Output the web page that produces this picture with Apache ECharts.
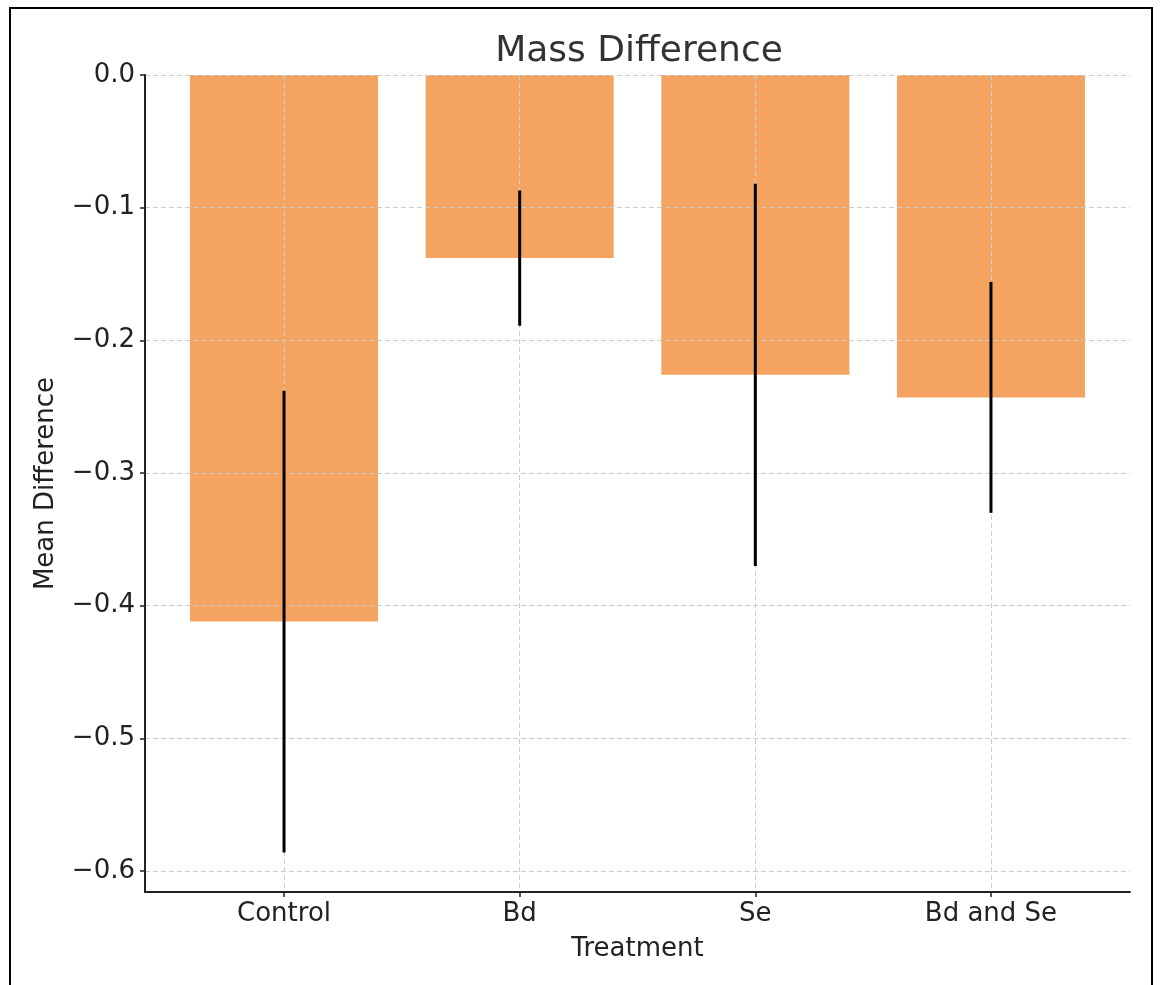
<!DOCTYPE html>
<html>
<head>
<meta charset="utf-8">
<script src="https://cdn.jsdelivr.net/npm/echarts@6/dist/echarts.min.js"></script>
<style>
  html, body { margin: 0; padding: 0; background: #fff; }
  #main { width: 1160px; height: 985px; }
</style>
</head>
<body>
<div id="main"></div>
<script>
// treatments and their mean mass difference
const categories = ['Control', 'Bd', 'Se', 'Bd and Se']
const meanDiff = [-0.412, -0.138, -0.226, -0.243]
// half length of each error bar
const errHalf = [0.174, 0.051, 0.144, 0.087]
const yTicks = [0, -0.1, -0.2, -0.3, -0.4, -0.5, -0.6]

const font = 'DejaVu Sans'
const catIdx = categories.map((c, i) => i)

const barData = meanDiff.map((v, i) => [i, v])
const errData = meanDiff.map((v, i) => [i, v, errHalf[i]])

const fmtTick = v => Number(v).toFixed(1).replace('-', '\u2212')

const option = {
    animation: false,
    backgroundColor: '#fff',
    textStyle: { fontFamily: font },
    title: {
        text: 'Mass Difference',
        left: 634,
        textAlign: 'center',
        top: 29,
        textStyle: { fontFamily: font, fontSize: 36, fontWeight: 'normal', color: '#333' }
    },
    grid: { left: 145, right: 30, top: 75, bottom: 93 },
    xAxis: {
        type: 'value',
        min: -0.59,
        max: 3.59,
        z: 3,
        name: 'Treatment',
        nameLocation: 'middle',
        nameGap: 44,
        nameTextStyle: { fontFamily: font, fontSize: 26, color: '#222' },
        axisLine: { show: true, onZero: false, lineStyle: { color: '#222', width: 2 } },
        axisTick: { show: true, length: 5, customValues: catIdx, lineStyle: { color: '#222', width: 1.5 } },
        axisLabel: {
            customValues: catIdx,
            margin: 9,
            fontFamily: font, fontSize: 26, color: '#222',
            formatter: v => categories[Math.round(v)]
        },
        splitLine: { show: true, lineStyle: { color: '#cccccc', width: 1, type: [5, 3] } }
    },
    yAxis: {
        type: 'value',
        min: -0.6158,
        max: 0,
        z: 3,
        name: 'Mean Difference',
        nameLocation: 'middle',
        nameGap: 86,
        nameTextStyle: { fontFamily: font, fontSize: 26, color: '#222' },
        axisLine: { show: true, onZero: false, lineStyle: { color: '#222', width: 2 } },
        axisTick: { show: true, length: 5, customValues: yTicks, lineStyle: { color: '#222', width: 1.5 } },
        axisLabel: {
            customValues: yTicks,
            margin: 10,
            fontFamily: font, fontSize: 26, color: '#222',
            formatter: fmtTick
        },
        splitLine: { show: true, lineStyle: { color: '#cccccc', width: 1, type: [5, 3] } }
    },
    series: [
        {
            name: 'mean',
            type: 'bar',
            data: barData,
            barWidth: 188,
            z: 2,
            itemStyle: { color: '#F4A460' }
        },
        {
            name: 'error',
            type: 'custom',
            z: 4,
            data: errData,
            renderItem: function (params, api) {
                const x = api.value(0)
                const m = api.value(1)
                const e = api.value(2)
                const top = api.coord([x, m + e])
                const bot = api.coord([x, m - e])
                return {
                    type: 'line',
                    shape: { x1: top[0], y1: top[1], x2: bot[0], y2: bot[1] },
                    style: { stroke: '#000', lineWidth: 3 }
                }
            }
        }
    ],
    graphic: [
        {
            type: 'rect',
            shape: { x: 10, y: 8, width: 1142, height: 1000 },
            style: { fill: null, stroke: '#000', lineWidth: 2 },
            z: 10
        }
    ]
}

const myChart = echarts.init(document.getElementById('main'))
myChart.setOption(option)
</script>
</body>
</html>
